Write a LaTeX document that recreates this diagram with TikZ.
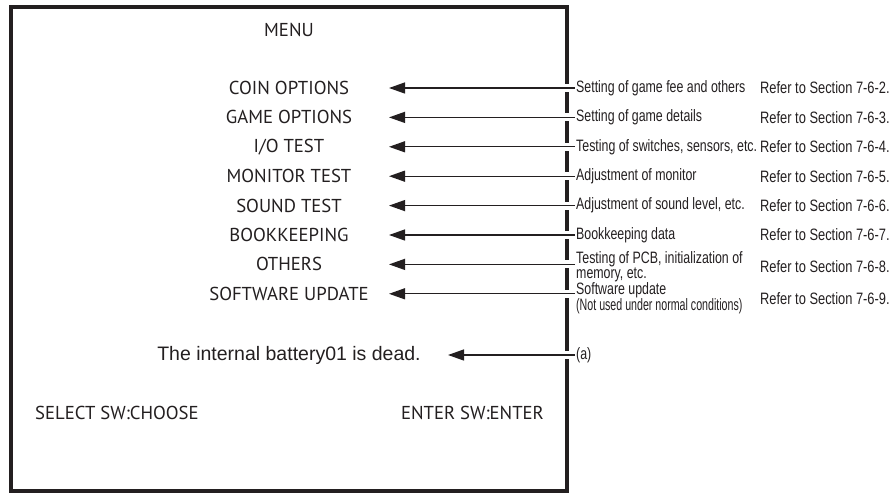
\documentclass[tikz,border=0pt]{standalone}
\usepackage{fontspec}
\usetikzlibrary{arrows.meta}
\newfontfamily\menufont{PT Sans}
\newfontfamily\descfont{Liberation Sans}[FakeStretch=0.75]
\newfontfamily\reffont{Liberation Sans}[FakeStretch=0.78]
\newfontfamily\tightfont{Liberation Sans}[FakeStretch=0.645]
\newfontfamily\msgfont{Liberation Sans}
\definecolor{ink}{RGB}{35,31,32}
\begin{document}
\begin{tikzpicture}[x=1pt, y=-1pt,
		menuitem/.style={inner sep=0pt, text=ink, font=\menufont\fontsize{18.7}{20}\selectfont},
		desc/.style={anchor=west, inner xsep=1pt, inner ysep=0pt, align=left, text=ink, font=\descfont\fontsize{16.5}{15}\selectfont},
		refer/.style={desc, font=\reffont\fontsize{16.5}{15}\selectfont},
		pointer/.style={draw=ink, line width=1.3pt, -{Triangle[length=16pt, width=11pt]}, preaction={draw=white, line width=8pt, -}}]
		\useasboundingbox (0,0) rectangle (895,494);
		\draw[ink, line width=3.2pt] (11,7) rectangle (567,491);

		\node[menuitem] (title) at (289,30) {MENU};
		\node[menuitem] (m1) at (289,88) {COIN OPTIONS};
		\node[menuitem] (m2) at (289,117.4) {GAME OPTIONS};
		\node[menuitem] (m3) at (289,146.8) {I/O TEST};
		\node[menuitem] (m4) at (289,176.2) {MONITOR TEST};
		\node[menuitem] (m5) at (289,205.6) {SOUND TEST};
		\node[menuitem] (m6) at (289,235) {BOOKKEEPING};
		\node[menuitem] (m7) at (289,264.4) {OTHERS};
		\node[menuitem] (m8) at (289,293.8) {SOFTWARE UPDATE};
		\node[inner sep=0pt, text=ink, font=\msgfont\fontsize{19.5}{22}\selectfont] (bat) at (289,355) {The internal battery01 is dead.};
		\node[menuitem, anchor=west] (sel) at (35,413) {SELECT SW:CHOOSE};
		\node[menuitem, anchor=east] (ent) at (544,413) {ENTER SW:ENTER};

		\coordinate (tip) at (389,0);
		\coordinate (battip) at (448,0);

		% descriptions on the right
		\node[desc] (d1) at (575,88) {Setting of game fee and others};
		\node[desc] (d2) at (575,117.4) {Setting of game details};
		\node[desc] (d3) at (575,146.8) {Testing of switches, sensors, etc.};
		\node[desc] (d4) at (575,176.2) {Adjustment of monitor};
		\node[desc] (d5) at (575,205.6) {Adjustment of sound level, etc.};
		\node[desc] (d6) at (575,235) {Bookkeeping data};
		\node[desc] (d7) at (575,266.5) {Testing of PCB, initialization of\\memory, etc.};
		\node[desc] (d8) at (575,298.5) {Software update\\{\tightfont(Not used under normal conditions)}};
		\node[desc] (note) at (575,355) {(a)};

		\foreach \i/\sec in {1/2,2/3,3/4,4/5,5/6,6/7,7/8,8/9}
			\node[refer] (r\i) at (759,0 |- d\i) {Refer to Section 7-6-\sec.};

		\foreach \i in {1,...,8}
			\draw[pointer] (d\i.west |- m\i) -- (tip |- m\i);
		\draw[pointer] (note.west) -- (battip |- note);
	\end{tikzpicture}
\end{document}
